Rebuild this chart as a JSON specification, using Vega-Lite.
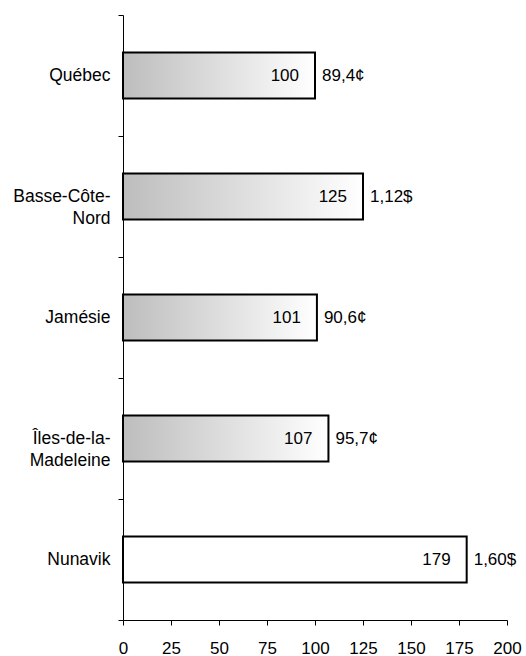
{
  "$schema": "https://vega.github.io/schema/vega-lite/v6.json",
  "width": 384,
  "height": 605,
  "autosize": "none",
  "padding": {"left": 123, "top": 15, "right": 19, "bottom": 36},
  "background": "white",
  "config": {
    "view": {"stroke": null},
    "font": "Liberation Sans",
    "axis": {
      "domainColor": "black",
      "tickColor": "black",
      "labelColor": "black",
      "labelFont": "Liberation Sans",
      "labelFontSize": 17,
      "labelFontWeight": "normal",
      "grid": false,
      "title": null,
      "tickSize": 5
    }
  },
  "data": {
    "values": [
      {"region": "Québec", "index": 100, "price": "89,4¢"},
      {"region": "Basse-Côte-Nord", "index": 125, "price": "1,12$"},
      {"region": "Jamésie", "index": 101, "price": "90,6¢"},
      {"region": "Îles-de-la-Madeleine", "index": 107, "price": "95,7¢"},
      {"region": "Nunavik", "index": 179, "price": "1,60$"}
    ]
  },
  "encoding": {
    "y": {
      "field": "region",
      "type": "nominal",
      "sort": null,
      "scale": {"paddingInner": 0, "paddingOuter": 0},
      "axis": {
        "tickBand": "extent",
        "labelPadding": 8,
        "labelLineHeight": 22,
        "labelFontSize": 17.5,
        "labelExpr": "datum.label == 'Basse-Côte-Nord' ? ['Basse-Côte-', 'Nord'] : datum.label == 'Îles-de-la-Madeleine' ? ['Îles-de-la-', 'Madeleine'] : datum.label"
      }
    }
  },
  "layer": [
    {
      "mark": {"type": "bar", "stroke": "black", "strokeWidth": 2, "height": {"band": 0.38}},
      "encoding": {
        "x": {
          "field": "index",
          "type": "quantitative",
          "scale": {"domain": [0, 200], "nice": false},
          "axis": {"values": [0, 25, 50, 75, 100, 125, 150, 175, 200], "labelPadding": 15, "labelFlush": false, "labelFontSize": 17}
        },
        "fill": {
          "condition": {"test": "datum.region == 'Nunavik'", "value": "white"},
          "value": {
            "gradient": "linear",
            "x1": 0, "y1": 0, "x2": 1, "y2": 0,
            "stops": [
              {"offset": 0, "color": "#bdbdbd"},
              {"offset": 1, "color": "#ffffff"}
            ]
          }
        }
      }
    },
    {
      "mark": {"type": "text", "align": "right", "baseline": "middle", "dx": -16, "fontSize": 17, "color": "black"},
      "encoding": {
        "x": {"field": "index", "type": "quantitative"},
        "text": {"field": "index", "type": "quantitative"}
      }
    },
    {
      "mark": {"type": "text", "align": "left", "baseline": "middle", "dx": 7, "fontSize": 17, "color": "black"},
      "encoding": {
        "x": {"field": "index", "type": "quantitative"},
        "text": {"field": "price", "type": "nominal"}
      }
    }
  ]
}
